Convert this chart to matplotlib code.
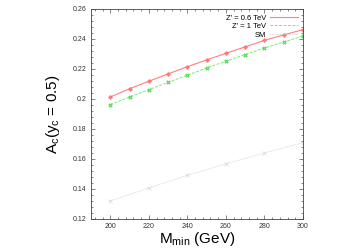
import matplotlib
matplotlib.use("Agg")
import matplotlib.pyplot as plt
from matplotlib.lines import Line2D
from matplotlib.ticker import MultipleLocator

plt.rcParams["font.family"] = ["Liberation Sans", "DejaVu Sans"]
plt.rcParams["mathtext.default"] = "regular"

m_min = [200, 210, 220, 230, 240, 250, 260, 270, 280, 290, 300]
zp_06 = [0.2013, 0.2068, 0.2118, 0.2167, 0.2215, 0.2260, 0.2304, 0.2347, 0.2391, 0.2427, 0.2462]
zp_1 = [0.1962, 0.2013, 0.2062, 0.2111, 0.2158, 0.2207, 0.2251, 0.2296, 0.2340, 0.2380, 0.2420]
m_sm = [200, 220, 240, 260, 280, 300]
sm = [0.1320, 0.1407, 0.1491, 0.1567, 0.1640, 0.1709]

red = "#ff8080"
green = "#70f070"
grey = "#d0d0d0"

fig = plt.figure(figsize=(3.54, 2.48), dpi=100)
ax = fig.add_axes([0.257, 0.117, 0.599, 0.847])

ax.plot(m_min, zp_06, color=red, lw=0.8, marker="P", ms=2.6, mew=0.3,
        mfc=red, mec="#ff5050")
ax.plot(m_min, zp_1, color=green, lw=0.7, ls=(0, (3, 1.5)), marker="X", ms=2.6,
        mew=0.3, mfc=green, mec="#40c040")
ax.plot(m_sm, sm, color=grey, lw=0.6, ls=(0, (1, 1)), marker="x", ms=2.2,
        mew=0.4)

ax.set_xlim(190, 300)
ax.set_ylim(0.12, 0.26)
ax.xaxis.set_major_locator(MultipleLocator(20))
ax.xaxis.set_minor_locator(MultipleLocator(4))
ax.yaxis.set_minor_locator(MultipleLocator(0.004))
ax.set_yticks([0.12, 0.14, 0.16, 0.18, 0.2, 0.22, 0.24, 0.26])
ax.set_yticklabels(["0.12", "0.14", "0.16", "0.18", "0.2", "0.22", "0.24", "0.26"])
ax.tick_params(which="both", direction="in", top=True, right=True, labelsize=5,
               width=0.5, color="#555555", labelcolor="#333333", pad=3)
ax.tick_params(which="major", length=3)
ax.tick_params(which="minor", length=1.5)
for s in ax.spines.values():
    s.set_linewidth(0.6)
    s.set_color("#444444")

ax.set_xlabel("M$_{min}$ (GeV)", fontsize=11, labelpad=0)
ax.set_ylabel("A$_{c}$(y$_{c}$ = 0.5)", fontsize=11, labelpad=8)

handles = [
    Line2D([], [], color=red, lw=0.8),
    Line2D([], [], color=green, lw=0.7, ls=(0, (3, 1.5))),
    Line2D([], [], color=grey, lw=0.6, ls=(0, (1, 1))),
]
labels = ["Z' = 0.6 TeV", "Z' = 1 TeV", "SM"]
ax.legend(handles, labels, loc="upper right", frameon=False, fontsize=5.5,
          markerfirst=False, handlelength=3.6, labelspacing=0.15,
          borderaxespad=0.5, handletextpad=0.5, borderpad=0.2)

fig.savefig("out.png", dpi=100)
